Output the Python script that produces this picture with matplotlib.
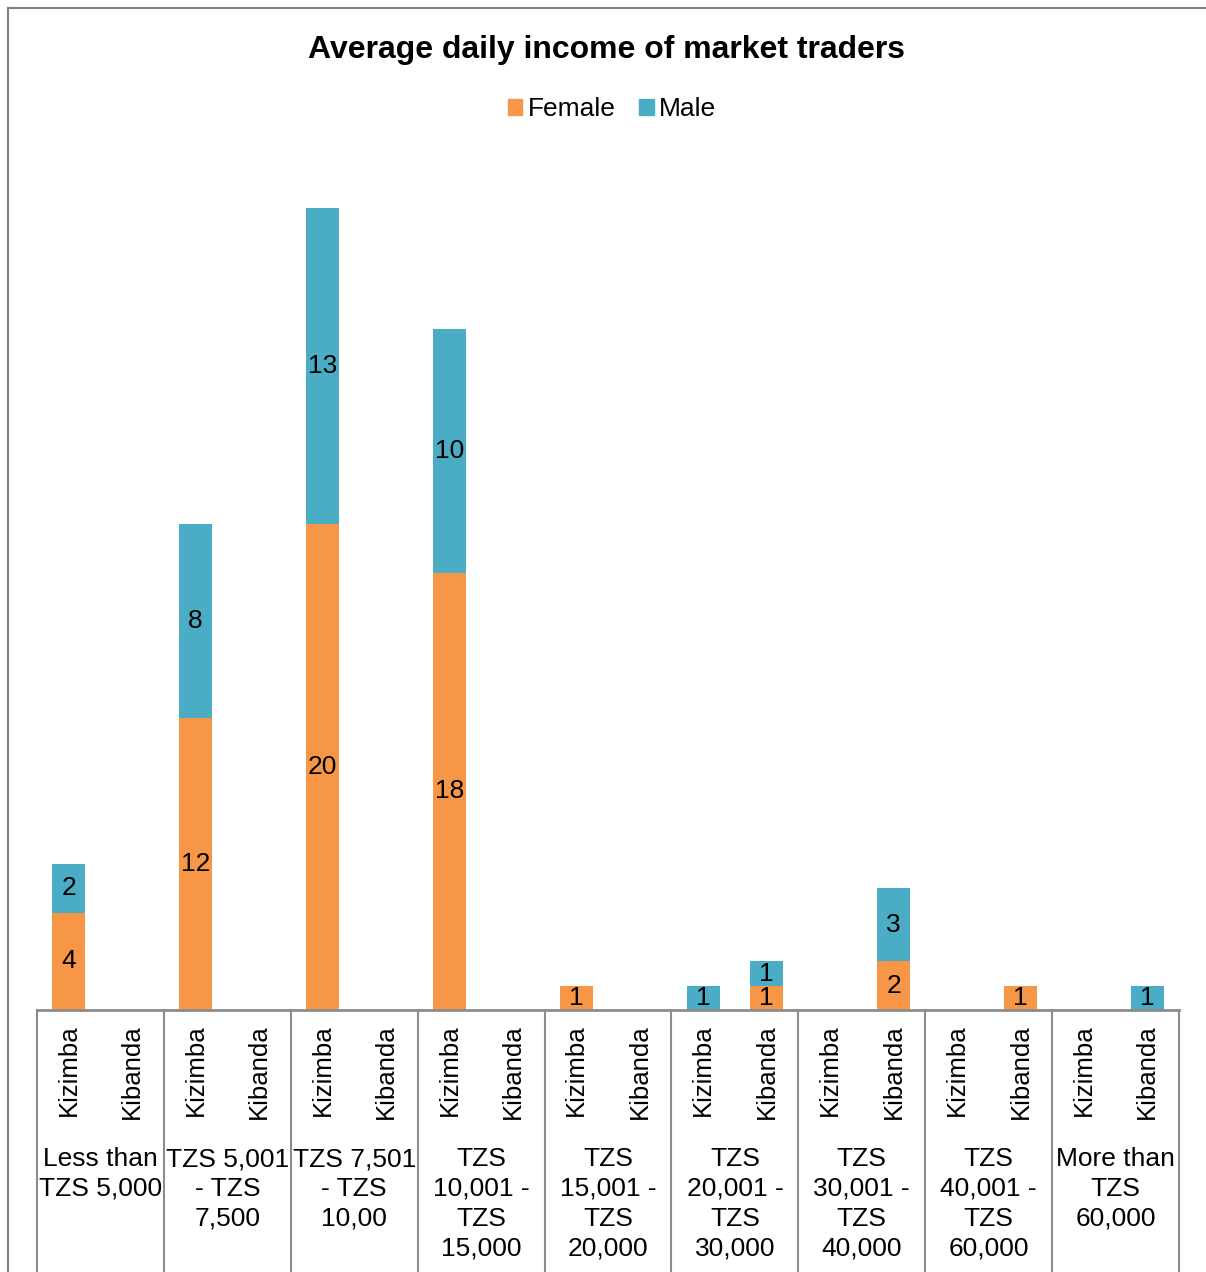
import matplotlib.pyplot as plt
from matplotlib.lines import Line2D
import numpy as np

plt.rcParams['font.family'] = ['Liberation Sans', 'DejaVu Sans']

# data
groups = ['Less than\nTZS 5,000', 'TZS 5,001\n- TZS\n7,500', 'TZS 7,501\n- TZS\n10,00',
          'TZS\n10,001 -\nTZS\n15,000', 'TZS\n15,001 -\nTZS\n20,000', 'TZS\n20,001 -\nTZS\n30,000',
          'TZS\n30,001 -\nTZS\n40,000', 'TZS\n40,001 -\nTZS\n60,000', 'More than\nTZS\n60,000']
places = ['Kizimba', 'Kibanda']
# order: group by group, Kizimba then Kibanda
female = [4, 0, 12, 0, 20, 0, 18, 0, 1, 0, 0, 1, 0, 2, 0, 1, 0, 0]
male = [2, 0, 8, 0, 13, 0, 10, 0, 0, 0, 1, 1, 0, 3, 0, 0, 0, 1]

c_female = '#F79646'
c_male = '#4BACC6'
gray = '#8C8C8C'

W, H = 1206, 1272
fig = plt.figure(figsize=(W / 100, H / 100), dpi=100)
ax_bot, ax_top = 1010, 135
ax = fig.add_axes([37 / W, 1 - ax_bot / H, (1179 - 37) / W, (ax_bot - ax_top) / H])

x = np.arange(len(female)) + 0.5
b1 = ax.bar(x, female, width=0.52, color=c_female)
b2 = ax.bar(x, male, width=0.52, bottom=female, color=c_male)
ax.bar_label(b1, labels=[str(v) if v else '' for v in female], label_type='center', fontsize=19)
ax.bar_label(b2, labels=[str(v) if v else '' for v in male], label_type='center', fontsize=19)

ax.set_xlim(0, 18)
ax.set_ylim(0, 36)
for s in ['top', 'left', 'right']:
    ax.spines[s].set_visible(False)
ax.spines['bottom'].set_color(gray)
ax.spines['bottom'].set_linewidth(2)
ax.set_xticks([])
ax.set_yticks([])

def ay(p):
    return (ax_bot - p) / (ax_bot - ax_top)

tr = ax.get_xaxis_transform()
for i in range(10):
    ax.plot([2 * i, 2 * i], [0, ay(1275)], color=gray, lw=1.5, transform=tr, clip_on=False)
for i, xi in enumerate(x):
    ax.text(xi, ay(1024), places[i % 2], rotation=90, ha='center', va='top',
            fontsize=18.5, transform=tr)
for g, name in enumerate(groups):
    ax.text(2 * g + 1, ay(1147), name, ha='center', va='top', fontsize=19,
            linespacing=1.31, transform=tr)

fig.text(607 / W, 1 - 50 / H, 'Average daily income of market traders', ha='center',
         va='center', fontsize=23, fontweight='bold')
handles = [plt.Rectangle((0, 0), 1, 1, color=c_female), plt.Rectangle((0, 0), 1, 1, color=c_male)]
fig.legend(handles, ['Female', 'Male'], loc='center', bbox_to_anchor=(612 / W, 1 - 109 / H),
           ncol=2, frameon=False, fontsize=19, handlelength=0.55, handleheight=0.55,
           handletextpad=0.2, columnspacing=0.9)

fig.add_artist(Line2D([8 / W, 1], [1 - 8 / H, 1 - 8 / H], color='#808080', lw=1.5))
fig.add_artist(Line2D([8 / W, 8 / W], [0, 1 - 8 / H], color='#808080', lw=1.5))

fig.savefig('out.png', dpi=100)
